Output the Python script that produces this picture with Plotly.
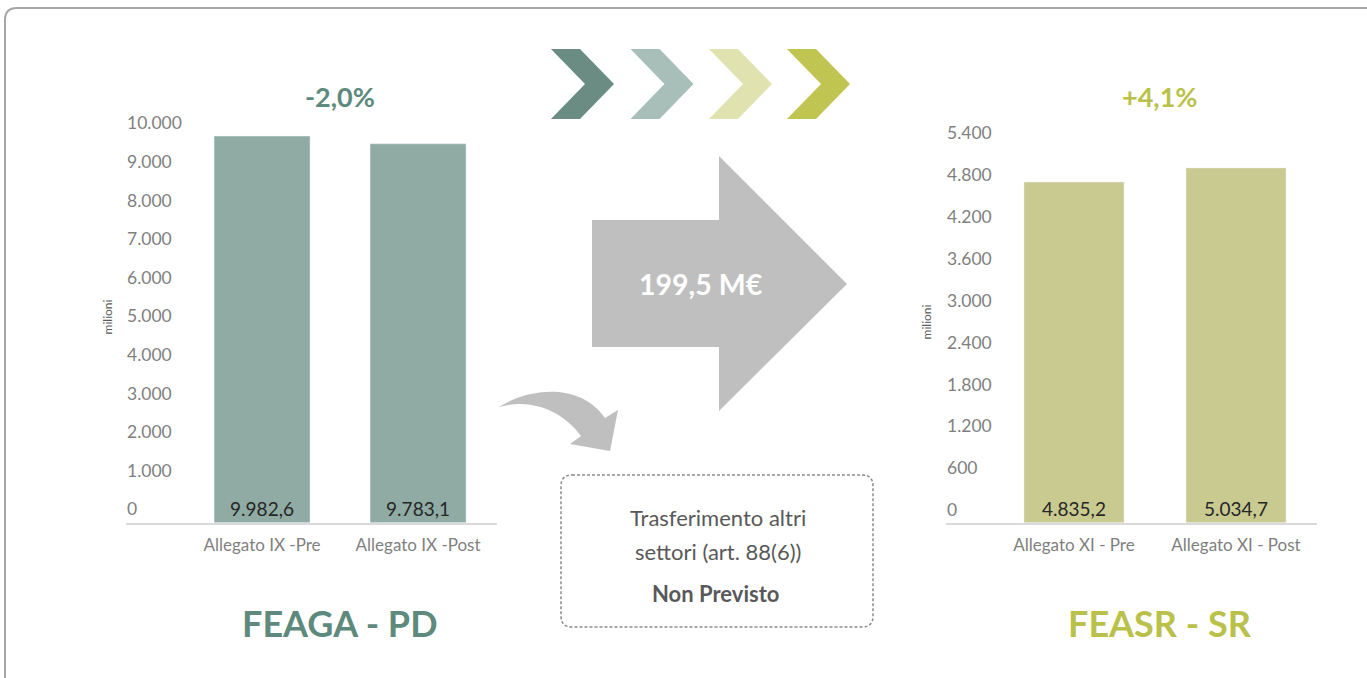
import plotly.graph_objects as go

# Canvas size in pixels
W, H = 1367, 678

# ---- data ----
cats_left = ["Allegato IX -Pre", "Allegato IX -Post"]
vals_left = [9982.6, 9783.1]
cats_right = ["Allegato XI - Pre", "Allegato XI - Post"]
vals_right = [4835.2, 5034.7]
ticks_left = [0, 1000, 2000, 3000, 4000, 5000, 6000, 7000, 8000, 9000, 10000]
ticks_right = [0, 600, 1200, 1800, 2400, 3000, 3600, 4200, 4800, 5400]
box_lines = ["Trasferimento altri", "settori (art. 88(6))"]
box_status = "Non Previsto"
title_left = "FEAGA - PD"
title_right = "FEASR - SR"

FONT = "Lato"
LEFT_BAR = "#8FABA3"
RIGHT_BAR = "#C9CA8F"
LEFT_TXT = "#5E8A7D"
RIGHT_TXT = "#BAC14A"
GRAY = "#BFBFBF"


def X(px):
    return px / W


def Y(py):
    return 1 - py / H


def path(points, close=True):
    s = "M " + " L ".join(f"{X(x):.5f},{Y(y):.5f}" for x, y in points)
    return s + (" Z" if close else "")


def rrect(x0, y0, x1, y1, r):
    p = lambda x, y: f"{X(x):.5f},{Y(y):.5f}"
    return (f"M {p(x0 + r, y0)} L {p(x1 - r, y0)} Q {p(x1, y0)} {p(x1, y0 + r)} "
            f"L {p(x1, y1 - r)} Q {p(x1, y1)} {p(x1 - r, y1)} "
            f"L {p(x0 + r, y1)} Q {p(x0, y1)} {p(x0, y1 - r)} "
            f"L {p(x0, y0 + r)} Q {p(x0, y0)} {p(x0 + r, y0)} Z")


def pct(a, b):
    v = (b - a) / a * 100
    return f"{v:+.1f}%".replace(".", ",").lstrip("+") if v < 0 else f"{v:+.1f}%".replace(".", ",")


def label_axis(base_px, top_px, vmax, dom_bot_px, dom_top_px):
    """Domain and range for a tick-label axis whose labels sit slightly above the grid."""
    k = (base_px - top_px) / vmax
    return ([Y(dom_bot_px), Y(dom_top_px)],
            [(base_px - dom_bot_px) / k, (base_px - dom_top_px) / k])


transfer = vals_left[0] - vals_left[1]
transfer_txt = f"{transfer:.1f} M€".replace(".", ",")
pct_left = pct(vals_left[0], vals_left[1])
pct_right = pct(vals_right[0], vals_right[1])

fig = go.Figure()

bar_common = dict(
    texttemplate="%{y:,.1f}",
    textposition="inside",
    insidetextanchor="start",
    textangle=0,
    constraintext="none",
    textfont=dict(family=FONT, size=19, color="#262626"),
    hoverinfo="skip",
    showlegend=False,
)
fig.add_trace(go.Bar(x=cats_left, y=vals_left, xaxis="x", yaxis="y",
                     marker_color=LEFT_BAR, width=0.615, **bar_common))
fig.add_trace(go.Bar(x=cats_right, y=vals_right, xaxis="x2", yaxis="y2",
                     marker_color=RIGHT_BAR, width=0.617, **bar_common))
# empty traces that carry the value-label axes
fig.add_trace(go.Scatter(x=[None], y=[None], xaxis="x", yaxis="y3", showlegend=False,
                         hoverinfo="skip"))
fig.add_trace(go.Scatter(x=[None], y=[None], xaxis="x2", yaxis="y4", showlegend=False,
                         hoverinfo="skip"))

xcommon = dict(type="category", showline=True, linecolor="#D9D9D9", linewidth=2,
               ticks="", showgrid=False, zeroline=False, fixedrange=True,
               ticklabelstandoff=6,
               tickfont=dict(family=FONT, size=17, color="#7F7F7F"))
ymain = dict(showgrid=False, zeroline=False, showline=False, ticks="",
             showticklabels=False, fixedrange=True)
ylab = dict(showgrid=False, zeroline=False, showline=False, ticks="",
            ticklabelposition="inside", tickformat=",d", fixedrange=True,
            anchor="free", overlaying=None,
            tickfont=dict(family=FONT, size=17.5, color="#7F7F7F"))

dom3, rng3 = label_axis(509.3, 123.3, 10000, 530, 104)
dom4, rng4 = label_axis(510.0, 133.3, 5400, 530, 114)

fig.update_layout(
    width=W, height=H,
    margin=dict(l=0, r=0, t=0, b=0),
    paper_bgcolor="white", plot_bgcolor="rgba(0,0,0,0)",
    separators=",.",
    font=dict(family=FONT),
    xaxis=dict(domain=[X(126), X(497)], range=[-0.872, 1.506], anchor="y", **xcommon),
    yaxis=dict(domain=[Y(522.7), Y(135.4)], range=[0, 10000], anchor="x", **ymain),
    xaxis2=dict(domain=[X(946), X(1317)], range=[-0.790, 1.500], anchor="y2", **xcommon),
    yaxis2=dict(domain=[Y(522.7), Y(142.2)], range=[0, 5400], anchor="x2", **ymain),
    yaxis3=dict(domain=dom3, range=rng3, tickvals=ticks_left, position=X(123),
                title=dict(text="milioni", standoff=10,
                           font=dict(family=FONT, size=12, color="#595959")), **ylab),
    yaxis4=dict(domain=dom4, range=rng4, tickvals=ticks_right, position=X(943),
                title=dict(text="milioni", standoff=11,
                           font=dict(family=FONT, size=12, color="#595959")), **ylab),
)

shapes = []
# outer frame
shapes.append(dict(type="path", path=rrect(5, 8, 1385, 700, 12), xref="paper", yref="paper",
                   line=dict(color="#A6A6A6", width=2), fillcolor="rgba(0,0,0,0)"))

# chevrons
chev_colors = ["#6A8C82", "#A8BEB8", "#E0E3B0", "#C0C552"]
chev_x = [551, 630.5, 709, 787]
for cx, col in zip(chev_x, chev_colors):
    pts = [(cx, 49), (cx + 29, 49), (cx + 63, 84), (cx + 29, 119), (cx, 119), (cx + 34, 84)]
    shapes.append(dict(type="path", path=path(pts), xref="paper", yref="paper",
                       fillcolor=col, line=dict(width=0)))

# big transfer arrow
big = [(592, 220), (719, 220), (719, 156), (847, 284), (719, 411), (719, 347), (592, 347)]
shapes.append(dict(type="path", path=path(big), xref="paper", yref="paper",
                   fillcolor=GRAY, line=dict(width=0)))

# curved arrow towards the box
p = lambda x, y: f"{X(x):.5f},{Y(y):.5f}"
curve = (f"M {p(499, 407)} C {p(525, 390)} {p(578, 380)} {p(605, 418)} "
         f"L {p(618, 410)} L {p(610, 451)} L {p(570, 444)} L {p(581, 436)} "
         f"C {p(562, 410)} {p(530, 398)} {p(499, 407)} Z")
shapes.append(dict(type="path", path=curve, xref="paper", yref="paper",
                   fillcolor=GRAY, line=dict(width=0)))

# dashed note box
shapes.append(dict(type="path", path=rrect(561, 475, 873, 627, 11), xref="paper", yref="paper",
                   fillcolor="rgba(0,0,0,0)", line=dict(color="#8C8C8C", width=1.5, dash="3px,2px")))

fig.update_layout(shapes=shapes)

ann = []


def text(x, y, s, size, color, bold=False):
    ann.append(dict(x=X(x), y=Y(y), xref="paper", yref="paper", showarrow=False,
                    text=f"<b>{s}</b>" if bold else s, xanchor="center", yanchor="middle",
                    font=dict(family=FONT, size=size, color=color)))


text(340, 97, pct_left, 27, LEFT_TXT, True)
text(1159, 97, pct_right, 27, RIGHT_TXT, True)
text(701, 284, transfer_txt, 28.5, "white", True)
text(718, 517, box_lines[0], 22, "#595959")
text(718, 551, box_lines[1], 22, "#595959")
text(715, 593, box_status, 22, "#595959", True)
text(340, 623, title_left, 36, LEFT_TXT, True)
text(1160, 623, title_right, 36, RIGHT_TXT, True)
fig.update_layout(annotations=ann)

fig.write_html("out.html")
